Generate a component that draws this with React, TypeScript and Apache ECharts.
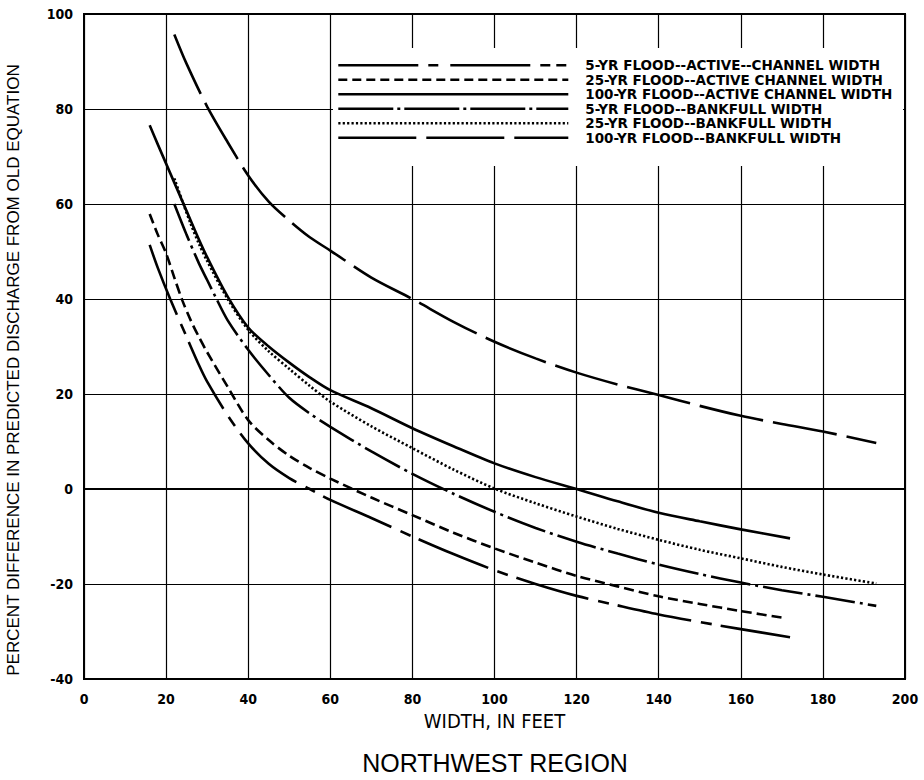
import React, { useEffect, useRef } from "react";
import * as echarts from "echarts";

// Tick values
const xMin = 0, xMax = 200, xStep = 20;
const yMin = -40, yMax = 100, yStep = 20;

const seriesNames = [
  "5-YR FLOOD--ACTIVE--CHANNEL WIDTH",
  "25-YR FLOOD--ACTIVE CHANNEL WIDTH",
  "100-YR FLOOD--ACTIVE CHANNEL WIDTH",
  "5-YR FLOOD--BANKFULL WIDTH",
  "25-YR FLOOD--BANKFULL WIDTH",
  "100-YR FLOOD--BANKFULL WIDTH",
];

// 5-YR active channel
const a5X = [22, 25, 30, 35, 40, 45, 50, 55, 60, 70, 80, 90, 100, 110, 120, 130, 140, 150, 160, 170, 180, 193];
const a5Y = [95.7, 89.5, 80.5, 73, 66, 60.5, 56.5, 53, 50.2, 44.5, 40, 35.2, 31, 27.5, 24.5, 22, 19.8, 17.5, 15.4, 13.7, 12.1, 9.7];

// 25-YR active channel
const a25X = [16, 18, 20, 22, 24, 26, 28, 30, 35, 40, 45, 50, 55, 60, 70, 80, 90, 100, 110, 120, 130, 140, 150, 160, 171];
const a25Y = [57.9, 53.5, 49.6, 44.5, 39.6, 35.5, 32, 28.8, 21.5, 14.5, 10.3, 7, 4.4, 2.2, -1.8, -5.5, -9.2, -12.5, -15.5, -18.3, -20.5, -22.6, -24.2, -25.7, -27.2];

// 100-YR active channel
const a100X = [16, 18, 20, 22, 25, 28, 30, 35, 40, 45, 50, 55, 60, 70, 80, 90, 100, 110, 120, 130, 140, 150, 160, 172];
const a100Y = [76.6, 72.5, 68.5, 64.5, 58.5, 52.5, 48.8, 40.5, 34, 30, 26.6, 23.5, 20.8, 17, 12.8, 9, 5.4, 2.5, 0, -2.6, -5, -6.8, -8.5, -10.4];

// 5-YR bankfull
const b5X = [22, 25, 28, 30, 32, 35, 40, 45, 50, 55, 60, 70, 80, 90, 100, 110, 120, 130, 140, 150, 160, 170, 180, 193];
const b5Y = [60, 53.5, 47.5, 44, 40.5, 35.5, 29.3, 24, 19.2, 15.9, 13.1, 7.9, 3.2, -1, -4.8, -8.2, -11.1, -13.6, -15.9, -17.9, -19.7, -21.3, -22.7, -24.6];

// 25-YR bankfull
const b25X = [22, 24, 26, 28, 30, 35, 40, 45, 50, 55, 60, 70, 80, 90, 100, 110, 120, 130, 140, 150, 160, 170, 180, 193];
const b25Y = [65.4, 60.5, 55.8, 51.6, 48, 40, 33.5, 29, 25.3, 21.7, 18.4, 13.2, 8.6, 4.1, 0.1, -3, -5.8, -8.4, -10.7, -12.8, -14.6, -16.4, -18, -19.9];

// 100-YR bankfull
const b100X = [16, 18, 21, 25, 28, 30, 35, 40, 45, 50, 55, 60, 70, 80, 90, 100, 110, 120, 130, 140, 150, 160, 172];
const b100Y = [51.4, 46.5, 40, 32, 26.1, 22.6, 15.5, 9.6, 5.3, 2.3, 0, -2.3, -6.1, -10, -13.7, -17.1, -20, -22.5, -24.5, -26.4, -28, -29.5, -31.2];

const xName = "WIDTH, IN FEET";
const yName = "PERCENT DIFFERENCE IN PREDICTED DISCHARGE FROM OLD EQUATION";
const titleText = "NORTHWEST REGION";

export default function App() {
  const ref = useRef<HTMLDivElement>(null);
  useEffect(() => {
    const chart = echarts.init(ref.current as HTMLDivElement, null, { renderer: "svg" });
    const pairs = (xs: number[], ys: number[]) => xs.map((x, i) => [x, ys[i]]);
    const lw = 2.6;
    const tickFont = "DejaVu Sans Condensed";
    const mk = (i: number, xs: number[], ys: number[], type: any) => ({
      name: seriesNames[i],
      type: "line",
      data: pairs(xs, ys),
      smooth: 0.3,
      symbol: "none",
      showSymbol: false,
      z: 2,
      itemStyle: { color: "#000", opacity: 0 },
      lineStyle: { color: "#000", width: lw, type, cap: "butt", opacity: 1 },
    });
    const dashes: any[] = [[65, 10], [10, 5], "solid", [40, 5, 3, 5], [2.2, 2.2], [75, 10, 11, 9]];
    const legendDashes: any[] = [
      [80, 10, 10, 12, 80, 10, 10, 6, 10, 100],
      [9, 5],
      "solid",
      [55, 4, 3, 4],
      [2.2, 2.2],
      [78, 10],
    ];
    const option: any = {
      animation: false,
      backgroundColor: "#fff",
      grid: {
        left: 84, right: 19, top: 14, bottom: 101,
        show: true, borderColor: "#000", borderWidth: 2, backgroundColor: "transparent",
      },
      title: {
        text: titleText,
        left: 495,
        top: 749,
        padding: 0,
        textAlign: "center",
        textStyle: { fontFamily: "Liberation Sans", fontWeight: "normal", fontSize: 25, lineHeight: 28, color: "#000" },
      },
      xAxis: {
        type: "value", min: xMin, max: xMax, interval: xStep,
        name: xName, nameLocation: "middle", nameGap: 31,
        nameTextStyle: { fontFamily: tickFont, fontSize: 20, color: "#000" },
        axisLine: { show: true, lineStyle: { color: "#000", width: 2 } },
        axisTick: { show: false },
        axisLabel: { color: "#000", fontFamily: tickFont, fontWeight: "bold", fontSize: 14, margin: 13 },
        splitLine: { show: true, lineStyle: { color: "#000", width: 1.2 } },
      },
      yAxis: {
        type: "value", min: yMin, max: yMax, interval: yStep,
        axisLine: { show: true, lineStyle: { color: "#000", width: 2 } },
        axisTick: { show: false },
        axisLabel: { color: "#000", fontFamily: tickFont, fontWeight: "bold", fontSize: 14, margin: 11 },
        splitLine: { show: true, lineStyle: { color: "#000", width: 1.2 } },
      },
      legend: {
        orient: "vertical",
        left: 337,
        top: 58,
        padding: 0,
        itemWidth: 230,
        itemHeight: 14.5,
        itemGap: 0,
        z: 5,
        selectedMode: false,
        itemStyle: { opacity: 0 },
        data: seriesNames.map((n, i) => ({
          name: n,
          itemStyle: { opacity: 0 },
          lineStyle: { type: legendDashes[i], width: lw, color: "#000", opacity: 1 },
        })),
        textStyle: {
          fontFamily: "DejaVu Sans", fontWeight: "bold", fontSize: 13.5, color: "#000",
          lineHeight: 14.5, padding: [0, 0, 0, 12],
        },
      },
      graphic: [
        { type: "rect", z: 3, shape: { x: 333, y: 48, width: 570, height: 118 }, style: { fill: "#fff" } },
        {
          type: "text", z: 5, x: 13, y: 370, rotation: Math.PI / 2,
          style: {
            text: yName, fontFamily: "Liberation Sans", fontSize: 17, fill: "#000",
            align: "center", verticalAlign: "middle", textAlign: "center", textVerticalAlign: "middle",
          },
        },
      ],
      series: [
        mk(0, a5X, a5Y, dashes[0]),
        mk(1, a25X, a25Y, dashes[1]),
        mk(2, a100X, a100Y, dashes[2]),
        mk(3, b5X, b5Y, dashes[3]),
        mk(4, b25X, b25Y, dashes[4]),
        mk(5, b100X, b100Y, dashes[5]),
      ],
    };
    chart.setOption(option);
    return () => chart.dispose();
  }, []);
  return <div ref={ref} style={{ position: "absolute", left: 0, top: 0, width: 924, height: 780 }} />;
}
